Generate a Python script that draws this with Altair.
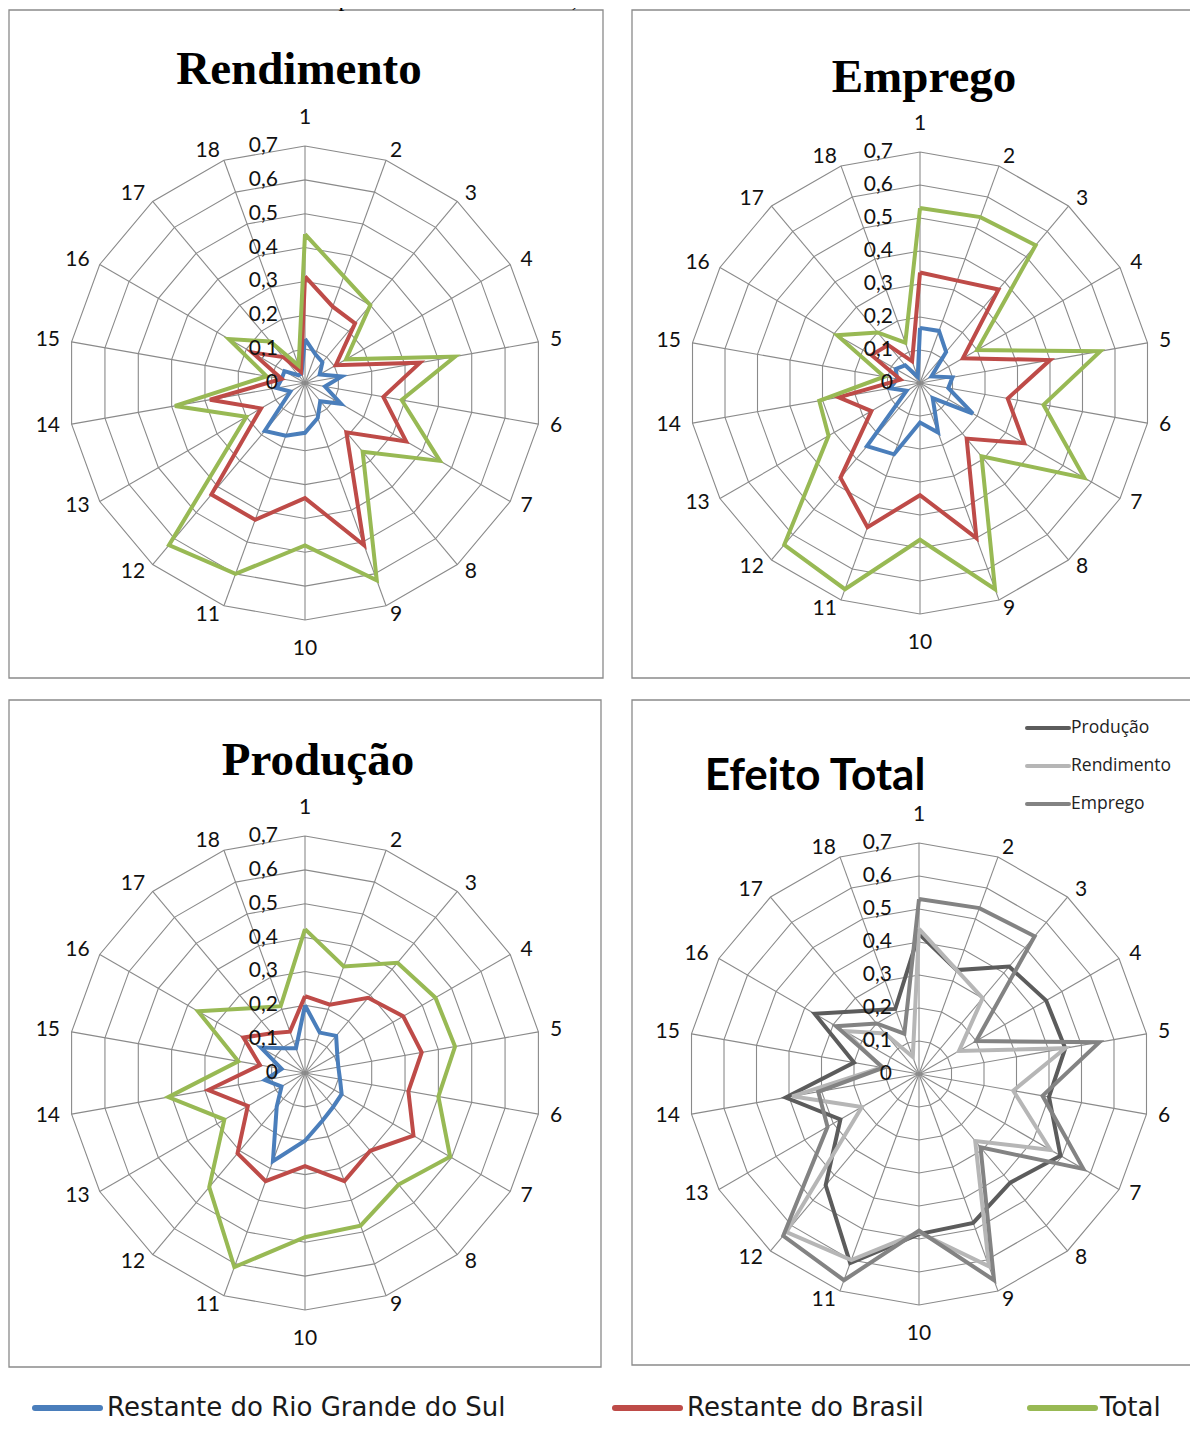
import altair as alt
import pandas as pd

# ---------------- data ----------------
spoke_labels = [str(i) for i in range(1, 19)]
tick_values = [0, 0.1, 0.2, 0.3, 0.4, 0.5, 0.6, 0.7]
tick_labels = ["0", "0,1", "0,2", "0,3", "0,4", "0,5", "0,6", "0,7"]

rend_rs = [0.13, 0.09, 0.08, 0.05, 0.11, 0.06, 0.123, 0.07, 0.11, 0.147, 0.166, 0.185, 0.05, 0.085, 0.07, 0.07, 0.03, 0.03]
rend_br = [0.315, 0.24, 0.23, 0.105, 0.345, 0.235, 0.345, 0.19, 0.51, 0.34, 0.43, 0.43, 0.15, 0.285, 0.07, 0.18, 0.10, 0.035]
rend_total = [0.44, 0.335, 0.30, 0.14, 0.45, 0.29, 0.46, 0.265, 0.62, 0.48, 0.60, 0.625, 0.20, 0.39, 0.115, 0.26, 0.16, 0.055]

emp_rs = [0.167, 0.168, 0.123, 0.04, 0.10, 0.087, 0.185, 0.06, 0.16, 0.12, 0.23, 0.25, 0.047, 0.092, 0.07, 0.085, 0.07, 0.02]
emp_br = [0.335, 0.33, 0.37, 0.15, 0.40, 0.27, 0.365, 0.22, 0.50, 0.34, 0.465, 0.375, 0.17, 0.25, 0.06, 0.17, 0.15, 0.07]
emp_total = [0.53, 0.535, 0.545, 0.20, 0.555, 0.38, 0.575, 0.29, 0.665, 0.475, 0.665, 0.64, 0.32, 0.31, 0.11, 0.29, 0.20, 0.13]

prod_rs = [0.20, 0.127, 0.143, 0.11, 0.10, 0.105, 0.125, 0.13, 0.15, 0.20, 0.277, 0.13, 0.08, 0.12, 0.07, 0.15, 0.095, 0.078]
prod_br = [0.227, 0.215, 0.29, 0.335, 0.35, 0.31, 0.37, 0.30, 0.34, 0.275, 0.34, 0.31, 0.195, 0.29, 0.135, 0.21, 0.153, 0.13]
prod_total = [0.425, 0.335, 0.425, 0.445, 0.45, 0.40, 0.495, 0.43, 0.48, 0.485, 0.61, 0.44, 0.275, 0.41, 0.20, 0.365, 0.25, 0.21]

region_names = ["Restante do Rio Grande do Sul", "Restante do Brasil", "Total"]
effect_names = ["Produção", "Rendimento", "Emprego"]
panel_titles = ["Rendimento", "Emprego", "Produção", "Efeito Total"]
source_note = "o restante do Rio Grande do Sul e para o restante do Brasil, 2008"

series_by_panel = {
    "Rendimento": [(region_names[0], rend_rs), (region_names[1], rend_br), (region_names[2], rend_total)],
    "Emprego": [(region_names[0], emp_rs), (region_names[1], emp_br), (region_names[2], emp_total)],
    "Produção": [(region_names[0], prod_rs), (region_names[1], prod_br), (region_names[2], prod_total)],
    "Efeito Total": [(effect_names[0], prod_total), (effect_names[1], rend_total), (effect_names[2], emp_total)],
}

# ---------------- layout (page pixels) ----------------
layout = pd.DataFrame({
    "panel": panel_titles,
    "cx": [305, 920, 305, 919],
    "cy": [383, 383, 1073, 1074],
    "k": [237 / 0.7, 231 / 0.7, 237 / 0.7, 231 / 0.7],
    "bx": [9, 632, 9, 632], "bx2": [603, 1215, 601, 1215],
    "by": [10, 10, 700, 700], "by2": [678, 678, 1367, 1365],
    "tx": [299, 924, 318, 815], "ty": [84, 92, 775, 790],
})
vmax = tick_values[-1]

color_domain = region_names + effect_names
color_range = ["#4a7ebb", "#be4b48", "#98b954", "#5c5c5c", "#b6b6b6", "#838383"]
COLOR = alt.Color("series:N", scale=alt.Scale(domain=color_domain, range=color_range), legend=None)

# page coordinates: svg starts at page (8, 8)
XS = alt.Scale(domain=[8, 1190], nice=False, zero=False)
YS = alt.Scale(domain=[8, 1424], nice=False, zero=False, reverse=True)


def X(f):
    return alt.X(f, type="quantitative", scale=XS, axis=None)


def Y(f):
    return alt.Y(f, type="quantitative", scale=YS, axis=None)


SIN = "sin(datum.theta*PI/180)"
COS = "cos(datum.theta*PI/180)"

# series rows
rows = []
for panel, lst in series_by_panel.items():
    for name, vals in lst:
        for j in range(19):
            rows.append({"panel": panel, "series": name, "ord": j, "value": vals[j % 18], "theta": (j % 18) * 20})
series_df = pd.DataFrame(rows).merge(layout, on="panel")

ring_rows = []
for panel in panel_titles:
    for v in tick_values[1:]:
        for j in range(19):
            ring_rows.append({"panel": panel, "ring": v, "ord": j, "value": v, "theta": (j % 18) * 20})
ring_df = pd.DataFrame(ring_rows).merge(layout, on="panel")

spoke_rows = []
for panel in panel_titles:
    for j, lab in enumerate(spoke_labels):
        th = j * 20
        vertical = th % 180 == 0
        spoke_rows.append({"panel": panel, "label": lab, "theta": th, "vmax": vmax,
                           "sgn": 0 if vertical else (1 if th < 180 else -1),
                           "hw": 6.1 * len(lab),
                           "voff": 28.5 if vertical else 9.5})
spoke_df = pd.DataFrame(spoke_rows).merge(layout, on="panel")

tick_rows = []
for panel in panel_titles:
    for v, lab in zip(tick_values, tick_labels):
        tick_rows.append({"panel": panel, "value": v, "label": lab})
tick_df = pd.DataFrame(tick_rows).merge(layout, on="panel")

# ---------------- layers ----------------
frames = alt.Chart(layout).mark_rect(fillOpacity=0, stroke="#8a8a8a", strokeWidth=1.3).encode(
    x=X("bx"), x2="bx2", y=Y("by"), y2="by2")

rings = alt.Chart(ring_df).transform_calculate(
    px=f"datum.cx + datum.value*datum.k*{SIN}", py=f"datum.cy - datum.value*datum.k*{COS}"
).mark_line(color="#8a8a8a", strokeWidth=1.1).encode(
    x=X("px"), y=Y("py"), detail=["panel:N", "ring:N"], order="ord:Q")

spokes = alt.Chart(spoke_df).transform_calculate(
    ex=f"datum.cx + datum.vmax*datum.k*{SIN}", ey=f"datum.cy - datum.vmax*datum.k*{COS}"
).mark_rule(color="#8a8a8a", strokeWidth=1.1).encode(
    x=X("cx"), y=Y("cy"), x2="ex:Q", y2="ey:Q")

lines = alt.Chart(series_df).transform_calculate(
    px=f"datum.cx + datum.value*datum.k*{SIN}", py=f"datum.cy - datum.value*datum.k*{COS}"
).mark_line(strokeWidth=4, strokeJoin="miter").encode(
    x=X("px"), y=Y("py"), color=COLOR, detail="panel:N", order="ord:Q")

spoke_text = alt.Chart(spoke_df).transform_calculate(
    lx=f"datum.cx + datum.vmax*datum.k*{SIN} + datum.sgn*datum.hw + 11.7*{SIN}",
    ly=f"datum.cy - datum.vmax*datum.k*{COS} - datum.voff*{COS}"
).mark_text(font="Lato", fontSize=21, color="#111111", align="center", baseline="middle").encode(
    x=X("lx"), y=Y("ly"), text="label:N")

tick_text = alt.Chart(tick_df).transform_calculate(
    lx="datum.cx - 27", ly="datum.cy - datum.value*datum.k"
).mark_text(font="Lato", fontSize=21, color="#111111", align="right", baseline="middle").encode(
    x=X("lx"), y=Y("ly"), text="label:N")

serif_titles = alt.Chart(layout).transform_filter(
    alt.FieldOneOfPredicate(field="panel", oneOf=panel_titles[:3])
).mark_text(font="Liberation Serif", fontSize=47, fontWeight="bold", color="#000000",
            align="center", baseline="alphabetic").encode(x=X("tx"), y=Y("ty"), text="panel:N")

sans_title = alt.Chart(layout).transform_filter(
    alt.FieldEqualPredicate(field="panel", equal=panel_titles[3])
).mark_text(font="Lato", fontSize=44, fontWeight="bold", color="#000000",
            align="center", baseline="alphabetic").encode(x=X("tx"), y=Y("ty"), text="panel:N")

# legend inside "Efeito Total"
leg4 = pd.DataFrame({"series": effect_names, "ly": [728, 766, 804], "lx": [1027] * 3, "lx2": [1069] * 3,
                     "tx": [1071] * 3})
leg4_lines = alt.Chart(leg4).mark_rule(strokeWidth=4, strokeCap="round").encode(
    x=X("lx"), x2="lx2", y=Y("ly"), color=COLOR)
leg4_text = alt.Chart(leg4).mark_text(font="Open Sans", fontSize=17.5, color="#222222", align="left",
                                      baseline="middle").encode(x=X("tx"), y=Y("ly"), text="series:N")

# bottom legend
legb = pd.DataFrame({"series": region_names, "ly": [1408] * 3, "lx": [35, 615, 1030], "lx2": [100, 680, 1095],
                     "tx": [107, 687, 1100], "ty": [1416] * 3})
legb_lines = alt.Chart(legb).mark_rule(strokeWidth=6, strokeCap="round").encode(
    x=X("lx"), x2="lx2", y=Y("ly"), color=COLOR)
legb_text = alt.Chart(legb).mark_text(font="DejaVu Sans", fontSize=26, color="#1a1a1a", align="left",
                                      baseline="alphabetic").encode(x=X("tx"), y=Y("ty"), text="series:N")

# source note: sits above the top edge, mostly cut off as in the reference
note = alt.Chart(pd.DataFrame({"t": [source_note], "x": [8], "y": [6]})).mark_text(
    font="Liberation Serif", fontSize=24, color="#000000", align="left", baseline="alphabetic").encode(
    x=X("x"), y=Y("y"), text="t:N")

chart = alt.layer(
    frames, rings, spokes, lines, spoke_text, tick_text, serif_titles, sans_title,
    leg4_lines, leg4_text, legb_lines, legb_text, note
).properties(width=1182, height=1416, padding=0, autosize=alt.AutoSizeParams(type="none")).configure_view(stroke=None)

chart.save("out.html", embed_options={"renderer": "svg", "actions": False})
